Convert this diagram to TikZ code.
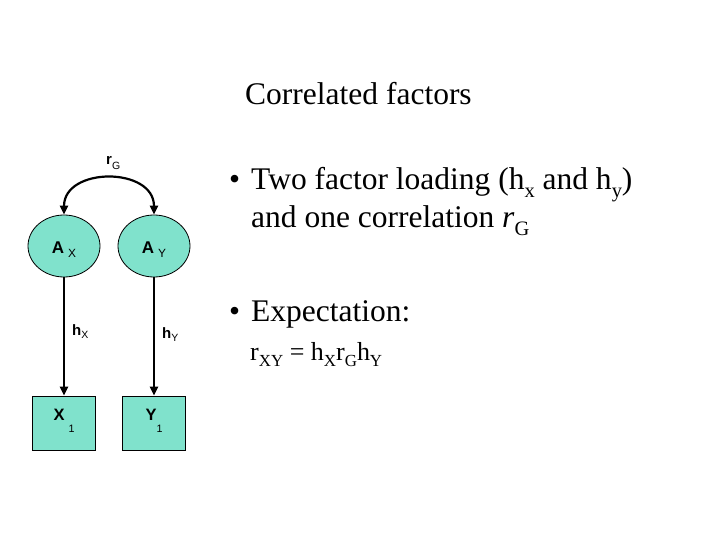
\documentclass[tikz,border=0pt]{standalone}
\usepackage{fontspec}
\setmainfont{Liberation Serif}
\newfontfamily\arialf{Liberation Sans}
\usetikzlibrary{arrows.meta,shapes.geometric}
\definecolor{boxfill}{RGB}{128,226,204}
\newcommand\subtxt[3][0.65]{\raisebox{-#2}{\scalebox{#1}{\mdseries #3}}}
\begin{document}
\begin{tikzpicture}[x=1pt,y=-1pt,
  latent/.style={ellipse,draw=black,line width=0.8pt,fill=boxfill,minimum width=72pt,minimum height=62pt,inner sep=0pt,text height=14pt,text depth=0pt,font=\arialf\bfseries\fontsize{17}{17}\selectfont},
  observed/.style={rectangle,draw=black,line width=0.8pt,fill=boxfill,minimum width=63pt,minimum height=54pt,inner sep=0pt,text height=12pt,text depth=18pt,font=\arialf\bfseries\fontsize{16.5}{16.5}\selectfont},
  pathlbl/.style={font=\arialf\bfseries\fontsize{15}{15}\selectfont,anchor=base west,inner sep=0pt},
  conn/.style={line width=2.2pt,-{Triangle[width=8pt,length=9pt]}},
  slidetxt/.style={anchor=base west,inner sep=0pt,font=\fontsize{31.5}{31.5}\selectfont},
  eqtxt/.style={anchor=base west,inner sep=0pt,font=\fontsize{26}{26}\selectfont},
]
\useasboundingbox[fill=white] (0,0) rectangle (720,540);

% diagram
\node[latent] (ax) at (64,246) {A\hspace{4pt}\subtxt[0.7]{4pt}{X}};
\node[latent] (ay) at (154,246) {A\hspace{4pt}\subtxt[0.7]{4pt}{Y}};
\node[observed] (x1) at (64,423) {X\hspace{4pt}\subtxt{12pt}{1}};
\node[observed] (y1) at (154,423) {Y\subtxt{12pt}{1}};

\draw[conn] (ax.south) -- (x1.north);
\draw[conn] (ay.south) -- (y1.north);
\draw[line width=2.2pt,{Triangle[width=8pt,length=9pt]}-{Triangle[width=8pt,length=9pt]}] (ax.north) .. controls +(0,-48) and +(0,-48) .. (ay.north);

\node[pathlbl] (rg) at (106,165) {r\subtxt[0.7]{5pt}{G}};
\node[pathlbl] (hx) at (72,335) {h\subtxt[0.7]{3pt}{X}};
\node[pathlbl] (hy) at (162,338) {h\subtxt[0.7]{3pt}{Y}};

% text
\node[slidetxt] (title) at (245,105) {Correlated factors};
\node[slidetxt] (b1) at (229,190) {•};
\node[slidetxt] (t1) at (251,190) {Two factor loading (h\subtxt{7pt}{x} and h\subtxt{7pt}{y})};
\node[slidetxt] (t2) at (251,228) {and one correlation \textit{r}\subtxt{7pt}{G}};
\node[slidetxt] (b2) at (229,321) {•};
\node[slidetxt] (t3) at (251,321) {Expectation:};
\node[eqtxt] (eq) at (250,360) {r\subtxt{6pt}{XY} = h\subtxt{6pt}{X}r\subtxt{6pt}{G}h\subtxt{6pt}{Y}};
\end{tikzpicture}
\end{document}
